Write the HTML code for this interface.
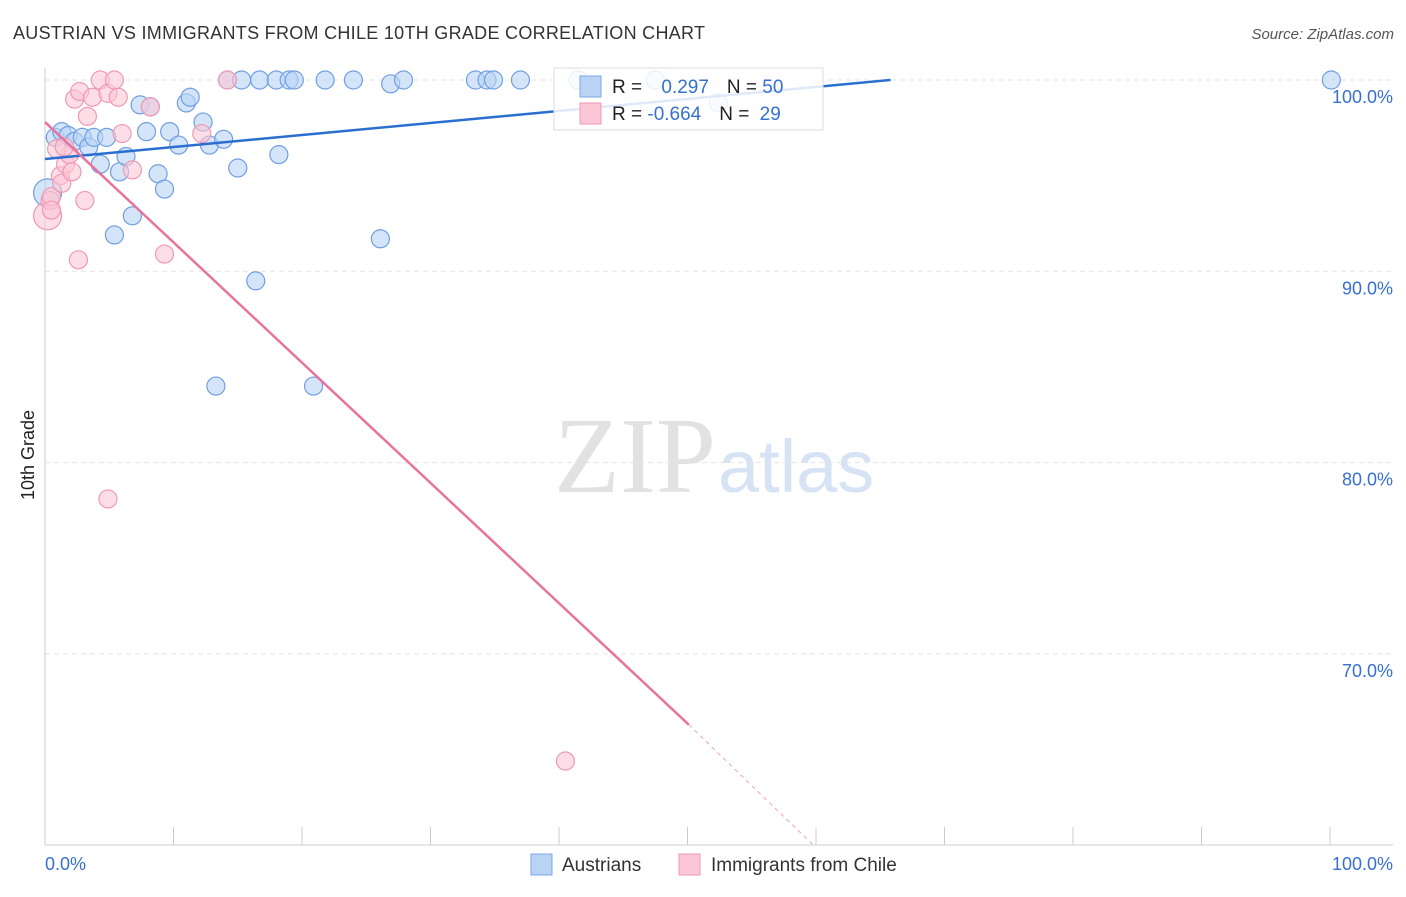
<!DOCTYPE html>
<html><head><meta charset="utf-8"><style>
body{margin:0;background:#fff;font-family:"Liberation Sans",sans-serif}
</style></head><body>
<svg id="c" width="1406" height="892" xmlns="http://www.w3.org/2000/svg">
<text x="13" y="39" font-size="18" fill="#333" textLength="692">AUSTRIAN VS IMMIGRANTS FROM CHILE 10TH GRADE CORRELATION CHART</text>
<text x="1394" y="39" font-size="15" fill="#555" font-style="italic" text-anchor="end">Source: ZipAtlas.com</text>
<text x="716" y="492" font-size="108" fill="#e2e2e2" text-anchor="end" font-family="Liberation Serif">ZIP</text>
<text x="718" y="492" font-size="74" fill="#d6e3f4">atlas</text>
<text transform="translate(34,455) rotate(-90)" font-size="18" fill="#222" text-anchor="middle">10th Grade</text>
<g id="grid"></g><g id="pts"></g><g id="lines"></g>
<g>
<rect x="554" y="68" width="269" height="62" fill="#fff" fill-opacity="0.85" stroke="#ddd"/>
<rect x="580" y="76" width="21" height="21" fill="#b9d3f5" stroke="#7aa7e6"/>
<rect x="580" y="103" width="21" height="21" fill="#fbc6d6" stroke="#ee9ab4"/>
<text x="612" y="93" font-size="19" fill="#222">R = <tspan fill="#3670d0" dx="14">0.297</tspan><tspan dx="18" fill="#222">N = </tspan><tspan fill="#3670d0">50</tspan></text>
<text x="612" y="120" font-size="19" fill="#222">R = <tspan fill="#3670d0">-0.664</tspan><tspan dx="18" fill="#222">N = </tspan><tspan fill="#3670d0" dx="5">29</tspan></text>
</g>
<g>
<rect x="531" y="854" width="21" height="21" fill="#b9d3f5" stroke="#7aa7e6"/>
<text x="562" y="871" font-size="19" fill="#333">Austrians</text>
<rect x="679" y="854" width="21" height="21" fill="#fbc6d6" stroke="#ee9ab4"/>
<text x="711" y="871" font-size="19" fill="#333">Immigrants from Chile</text>
</g>
</svg>
<script>
const yTicks=[100,90,80,70];
const xTickLabels=["0.0%","100.0%"];
const blueX=[0.8,1.3,1.8,2.3,2.9,3.4,3.8,4.3,4.8,5.4,5.8,6.3,6.8,7.4,7.9,8.2,8.8,9.3,9.7,10.4,11,11.3,12.3,12.8,13.9,14.2,15,15.3,16.4,16.7,18,18.2,19,19.4,20.9,21.8,24,26.1,26.9,27.9,33.5,34.4,34.9,37,41.5,47.5,52.4,100.1,0.2,13.3];
const blueY=[97,97.3,97.1,96.8,97,96.5,97,95.6,97,91.9,95.2,96,92.9,98.7,97.3,98.6,95.1,94.3,97.3,96.6,98.8,99.1,97.8,96.6,96.9,100,95.4,100,89.5,100,100,96.1,100,100,84,100,100,91.7,99.8,100,100,100,100,100,100,100,98.8,100,94.1,84];
const blueR=[9,9,9,9,9,9,9,9,9,9,9,9,9,9,9,9,9,9,9,9,9,9,9,9,9,9,9,9,9,9,9,9,9,9,9,9,9,9,9,9,9,9,9,9,9,9,9,9,14,9];
const pinkX=[0.2,0.4,0.5,1.2,1.3,1.6,1.9,2.1,2.3,2.7,3.1,3.3,3.7,4.3,4.9,5.4,5.7,6,2.6,4.9,6.8,8.2,9.3,12.2,14.2,40.5,0.9,1.5,0.5];
const pinkY=[92.9,93.7,93.9,95,94.6,95.6,96.1,95.2,99,99.4,93.7,98.1,99.1,100,99.3,100,99.1,97.2,90.6,78.1,95.3,98.6,90.9,97.2,100,64.4,96.4,96.5,93.2];
const pinkR=[14,9,9,9,9,9,9,9,9,9,9,9,9,9,9,9,9,9,9,9,9,9,9,9,9,9,9,9,9];
const blueLine=[[0,95.87],[65.8,100]];
const pinkLine=[[0,97.8],[50.1,66.3]];
const pinkDash=[[50.1,66.3],[59.8,60]];
const NS="http://www.w3.org/2000/svg";
const sx=v=>45+v*12.85, sy=v=>80+(100-v)*19.13;
function mk(t,a,p){const e=document.createElementNS(NS,t);for(const k in a)e.setAttribute(k,a[k]);document.getElementById(p).appendChild(e);return e;}
yTicks.forEach(t=>{
 const l=mk('line',{x1:45,x2:1393,y1:sy(t),y2:sy(t),stroke:'#e4e4e4','stroke-dasharray':'5,4'},'grid');
 
 
 const tx=mk('text',{x:1393,y:sy(t)+23,'font-size':18,fill:'#3670d0','text-anchor':'end'},'grid');
 tx.textContent=t.toFixed(1)+'%';
 
 
});
mk('line',{x1:45,x2:45,y1:68,y2:845,stroke:'#ccc'},'grid');
const ax=mk('line',{x1:45,x2:1393,y1:845,y2:845,stroke:'#ccc'},'grid');


for(let i=0;i<=10;i++){mk('line',{x1:sx(i*10),x2:sx(i*10),y1:827,y2:845,stroke:'#ccc'},'grid');}
[[0,'start'],[100,'end']].forEach((d,i)=>{
 const t=mk('text',{x:i?1393:45,y:870,'font-size':18,fill:'#3670d0','text-anchor':d[1]},'grid');
 t.textContent=xTickLabels[i];
 
 
});
blueX.forEach((x,i)=>{const c=mk('circle',{cx:sx(x),cy:sy(blueY[i]),r:blueR[i],fill:'#b9d3f5','fill-opacity':0.6,stroke:'#6f9fe0','stroke-width':1.2},'pts');
 
 });
pinkX.forEach((x,i)=>{const c=mk('circle',{cx:sx(x),cy:sy(pinkY[i]),r:pinkR[i],fill:'#fbc6d6','fill-opacity':0.6,stroke:'#ee9ab4','stroke-width':1.2},'pts');
 
 });
const bl=mk('line',{x1:sx(blueLine[0][0]),y1:sy(blueLine[0][1]),x2:sx(blueLine[1][0]),y2:sy(blueLine[1][1]),stroke:'#2a6fd0','stroke-width':2.5},'lines');


const pl=mk('line',{x1:sx(pinkLine[0][0]),y1:sy(pinkLine[0][1]),x2:sx(pinkLine[1][0]),y2:sy(pinkLine[1][1]),stroke:'#e8739c','stroke-width':2.5},'lines');


const pd=mk('line',{x1:sx(pinkDash[0][0]),y1:sy(pinkDash[0][1]),x2:sx(pinkDash[1][0]),y2:sy(pinkDash[1][1]),stroke:'#f0a0bb','stroke-width':1,'stroke-dasharray':'4,4'},'lines');


</script>
</body></html>
